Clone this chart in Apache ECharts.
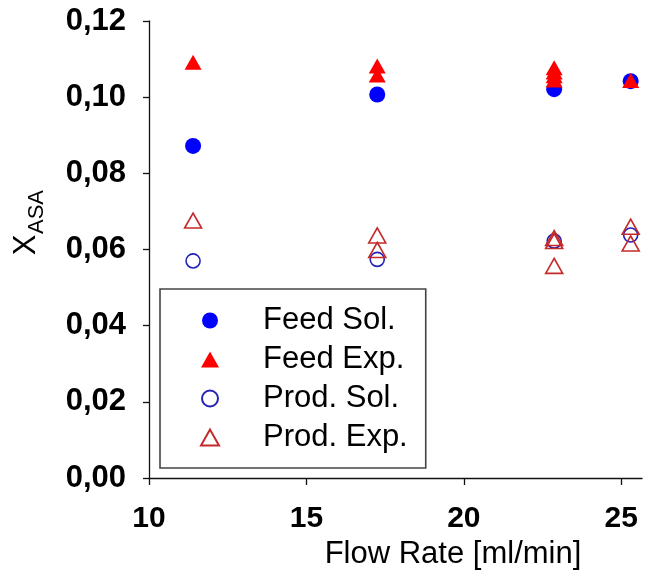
<!DOCTYPE html>
<html>
<head>
<meta charset="utf-8">
<script src="https://cdn.jsdelivr.net/npm/echarts@6/dist/echarts.min.js"></script>
<style>
html,body{margin:0;padding:0;background:#fff;}
#chart{width:645px;height:576px;}
</style>
</head>
<body>
<div id="chart"></div>
<script>
// ---- data ----
const seriesNames = ['Feed Sol.', 'Feed Exp.', 'Prod. Sol.', 'Prod. Exp.'];
const xTicks = [10, 15, 20, 25];

const feedSolX = [11.4, 17.25, 22.87, 25.3];
const feedSolY = [0.0872, 0.1007, 0.1021, 0.1042];

const feedExpX = [11.4, 17.25, 17.25, 22.87, 22.87, 22.87, 22.87, 25.3];
const feedExpY = [0.1092, 0.1082, 0.1058, 0.1077, 0.1066, 0.1056, 0.1045, 0.1044];

const prodSolX = [11.4, 17.25, 22.87, 25.3];
const prodSolY = [0.0570, 0.0574, 0.0622, 0.0638];

const prodExpX = [11.4, 17.25, 17.25, 22.87, 22.87, 22.87, 25.3, 25.3];
const prodExpY = [0.0676, 0.0637, 0.0599, 0.0630, 0.0622, 0.0557, 0.0660, 0.0616];

function pairs(xs, ys) { return xs.map((x, i) => [x, ys[i]]); }

const triIcon = 'path://M0,15L8.5,0L17,15Z';

const chart = echarts.init(document.getElementById('chart'), null, {renderer: 'canvas'});

const option = {
  backgroundColor: '#fff',
  animation: false,
  grid: {left: 149, right: 3, top: 21, bottom: 98, containLabel: false},
  xAxis: {
    type: 'value',
    min: 10,
    max: 25.66,
    interval: 5,
    splitLine: {show: false},
    axisLine: {show: true, onZero: false, lineStyle: {color: '#111', width: 1.3}},
    axisTick: {show: true, inside: false, length: 7, customValues: xTicks, lineStyle: {color: '#111', width: 1.3}},
    axisLabel: {
      customValues: xTicks,
      margin: 26,
      color: '#000',
      fontFamily: 'Liberation Sans',
      fontWeight: 'bold',
      fontSize: 30,
      formatter: v => String(v)
    }
  },
  yAxis: {
    type: 'value',
    min: 0,
    max: 0.12,
    interval: 0.02,
    splitLine: {show: false},
    axisLine: {show: true, onZero: false, lineStyle: {color: '#111', width: 1.3}},
    axisTick: {show: true, inside: false, length: 6, lineStyle: {color: '#111', width: 1.3}},
    axisLabel: {
      margin: 23,
      color: '#000',
      fontFamily: 'Liberation Sans',
      fontWeight: 'bold',
      fontSize: 31,
      formatter: v => v.toFixed(2).replace('.', ',')
    }
  },
  legend: {
    show: true,
    orient: 'vertical',
    left: 160,
    top: 289,
    data: [
      {name: seriesNames[0], icon: 'circle'},
      {name: seriesNames[1], icon: triIcon},
      {name: seriesNames[2], icon: 'circle'},
      {name: seriesNames[3], icon: triIcon}
    ],
    itemWidth: 18,
    itemHeight: 16,
    itemGap: 8,
    padding: [16, 18, 15, 40],
    borderColor: '#444',
    borderWidth: 1.6,
    borderRadius: 0,
    backgroundColor: '#fff',
    symbolKeepAspect: true,
    formatter: name => '{g|}' + name,
    textStyle: {
      fontFamily: 'Liberation Sans', fontSize: 31, color: '#000',
      rich: {g: {width: 39, fontSize: 31}}
    }
  },
  series: [
    {
      name: seriesNames[0], type: 'scatter', symbol: 'circle', symbolSize: 16,
      itemStyle: {color: '#0000ff', opacity: 1},
      data: pairs(feedSolX, feedSolY)
    },
    {
      name: seriesNames[1], type: 'scatter', symbol: 'triangle', symbolSize: [17, 15],
      itemStyle: {color: '#ff0000', opacity: 1},
      data: pairs(feedExpX, feedExpY)
    },
    {
      name: seriesNames[2], type: 'scatter', symbol: 'circle', symbolSize: 14,
      itemStyle: {color: 'rgba(255,255,255,0)', borderColor: '#2323b5', borderWidth: 1.6, opacity: 1},
      data: pairs(prodSolX, prodSolY)
    },
    {
      name: seriesNames[3], type: 'scatter', symbol: 'triangle', symbolSize: [17, 15],
      itemStyle: {color: 'rgba(255,255,255,0)', borderColor: '#c42a2a', borderWidth: 1.6, opacity: 1},
      data: pairs(prodExpX, prodExpY)
    }
  ],
  graphic: [
    {
      type: 'text', x: 453, y: 554,
      style: {text: 'Flow Rate [ml/min]', font: '31px "Liberation Sans"', fill: '#000', align: 'center', verticalAlign: 'middle'}
    },
    {
      type: 'text', x: 26, y: 245, rotation: Math.PI / 2,
      style: {text: 'X', font: '31px "Liberation Sans"', fill: '#000', align: 'center', verticalAlign: 'middle'}
    },
    {
      type: 'text', x: 37, y: 212, rotation: Math.PI / 2,
      style: {text: 'ASA', font: '22px "Liberation Sans"', fill: '#000', align: 'center', verticalAlign: 'middle'}
    }
  ]
};
chart.setOption(option);
</script>
</body>
</html>
